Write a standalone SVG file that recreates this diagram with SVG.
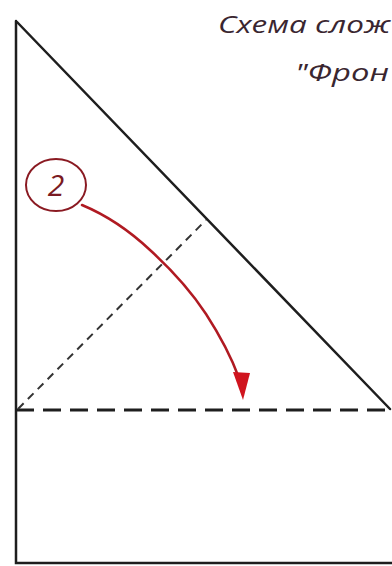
<svg xmlns="http://www.w3.org/2000/svg" width="392" height="566" viewBox="0 0 392 566">
<style>
.solid{stroke:#1e1e1e;stroke-width:2.5;fill:none;stroke-linecap:round}
.dash1{stroke:#1e1e1e;stroke-width:3;fill:none;stroke-dasharray:18 9}
.dash2{stroke:#333;stroke-width:2;fill:none;stroke-dasharray:8 6}
.red{stroke:#b01a22;stroke-width:2.5;fill:none;stroke-linecap:round}
.title{font-family:"Open Sans","DejaVu Sans",sans-serif;font-style:italic;font-size:23px;fill:#3a2630}
</style>
<rect width="392" height="566" fill="#ffffff"/>
<g id="sheet">
<path class="solid" d="M16,21 L16,563 L392,563"/>
<path class="solid" d="M17,22 L390,409"/>
</g>
<g id="folds">
<line class="dash1" x1="16" y1="410" x2="392" y2="410"/>
<line class="dash2" x1="18" y1="409" x2="206" y2="220"/>
</g>
<g id="step2">
<ellipse cx="56" cy="185" rx="30" ry="26" fill="none" stroke="#8a1a22" stroke-width="2"/>
<text x="56" y="196" text-anchor="middle" font-family="'Open Sans','DejaVu Sans',sans-serif" font-style="italic" font-size="30" fill="#7a1a22">2</text>
</g>
<g id="connectors">
<path class="red" d="M82,205 Q118,220 150,250 Q185,282 206,314 Q228,348 239,378"/>
<polygon points="243,400 233,372 250,373" fill="#d0141e"/>
</g>
<g id="caption">
<text class="title" x="218" y="33" textLength="172" lengthAdjust="spacingAndGlyphs">Схема слож</text>
<text class="title" x="295" y="81" textLength="94" lengthAdjust="spacingAndGlyphs">"Фрон</text>
</g>
</svg>
